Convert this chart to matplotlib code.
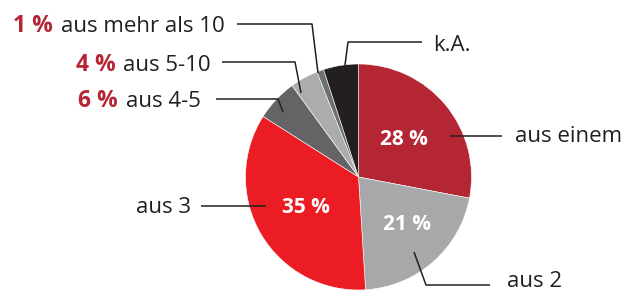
import matplotlib.pyplot as plt

plt.rcParams.update({"font.family": ["Open Sans", "DejaVu Sans"]})

# data: clockwise from 12 o'clock
labels = ["aus einem", "aus 2", "aus 3", "aus 4-5", "aus 5-10", "aus mehr als 10", "k.A."]
shares = [28, 21, 35, 6, 4, 1, 5]
colours = ["#B52634", "#A7A8AA", "#EC1C24", "#646466", "#ABACAE", "#6E6F71", "#231F20"]

txt_c = "#231F20"
red_c = "#B52634"

fig = plt.figure(figsize=(6.23, 2.93), dpi=100)
ax = fig.add_axes([0, 0, 1, 1])

# pie in pixel coordinates (y axis inverted -> counterclock=True draws clockwise)
ax.pie(
    shares,
    colors=colours,
    center=(358.5, 177),
    radius=113,
    startangle=-90,
    counterclock=True,
    wedgeprops={"edgecolor": "white", "linewidth": 0.4},
    frame=True,
)
ax.set_xlim(0, 623)
ax.set_ylim(293, 0)
ax.set_aspect("auto")
ax.axis("off")

fs = 16

# values inside the three big slices
inside = {0: (404, 145), 1: (407, 230), 2: (306, 213)}
for i, (x, y) in inside.items():
    ax.text(x, y, f"{shares[i]} %", color="white", fontsize=fs - 1,
            fontweight="bold", ha="center", va="baseline")

# leader lines
lw = 1.1
leaders = [
    [(450, 136), (502, 136)],                      # aus einem
    [(414, 252), (426, 285), (490, 285)],          # aus 2
    [(266, 206), (201, 206)],                      # aus 3
    [(283, 112), (278, 99), (216, 99)],            # aus 4-5
    [(301, 93), (295, 62), (222, 62)],             # aus 5-10
    [(318, 73), (312, 24), (237, 24)],             # aus mehr als 10
    [(345, 65), (348, 42), (422, 42)],             # k.A.
]
for pts in leaders:
    xs, ys = zip(*pts)
    ax.plot(xs, ys, color=txt_c, lw=lw, solid_capstyle="butt")

# right-hand and bottom labels
ax.text(515, 142, labels[0], color=txt_c, fontsize=fs, ha="left", va="baseline")
ax.text(507, 287, labels[1], color=txt_c, fontsize=fs, ha="left", va="baseline")
ax.text(191, 213, labels[2], color=txt_c, fontsize=fs, ha="right", va="baseline")
ax.text(433, 51, labels[6], color=txt_c, fontsize=fs, ha="left", va="baseline")

# left labels with red percent prefix
fig.canvas.draw()
renderer = fig.canvas.get_renderer()
left_items = [(3, 201, 107), (4, 211, 71), (5, 225, 32)]
for i, xr, yb in left_items:
    t = ax.text(xr, yb, labels[i], color=txt_c, fontsize=fs, ha="right", va="baseline")
    bb = t.get_window_extent(renderer=renderer)
    x0 = ax.transData.inverted().transform((bb.x0, bb.y0))[0]
    ax.text(x0 - 8, yb, f"{shares[i]} %", color=red_c, fontsize=fs + 0.5,
            fontweight="bold", ha="right", va="baseline")

fig.savefig("out.png", dpi=100)
